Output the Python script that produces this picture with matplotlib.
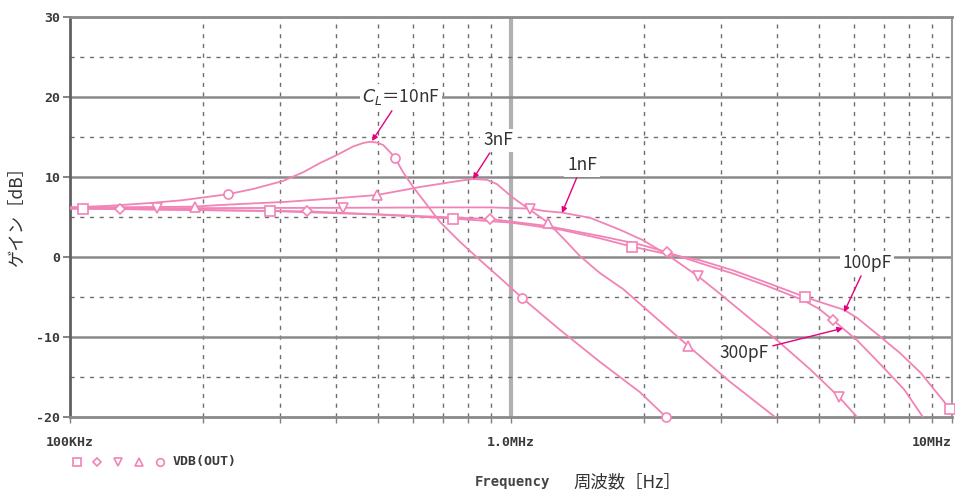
import matplotlib
matplotlib.use("Agg")
import matplotlib.pyplot as plt
from matplotlib.lines import Line2D
from matplotlib.ticker import FixedLocator, NullFormatter
import numpy as np

# ---------------- data (frequency in MHz, gain in dB) ----------------
f_100p = [0.1, 0.107, 0.284, 0.5, 0.739, 1.0, 1.3, 1.6, 1.881, 2.2, 2.68, 3.2, 3.8, 4.642,
          5.0, 5.69, 6.09, 6.8, 7.62, 8.5, 9.06, 9.9, 10.0]
g_100p = [6.05, 6.05, 5.75, 5.3, 4.8, 4.3, 3.4, 2.3, 1.3, 0.5, -0.4, -1.7, -3.2, -5.0,
          -5.6, -6.6, -7.6, -9.75, -12.0, -14.5, -16.4, -19.0, -19.4]
m_100p = [1, 2, 4, 8, 13, 21]

f_300p = [0.1, 0.13, 0.345, 0.6, 0.896, 1.2, 1.6, 1.95, 2.258, 2.68, 3.2, 3.8, 4.6, 5.0,
          5.373, 6.09, 6.975, 7.8, 8.59, 9.0]
g_300p = [6.05, 6.0, 5.7, 5.15, 4.75, 3.9, 2.6, 1.6, 0.6, -0.75, -2.1, -3.6, -5.4, -6.5,
          -7.9, -10.4, -13.75, -16.6, -20.0, -21.5]
m_300p = [1, 2, 4, 8, 14]

f_1n = [0.1, 0.1575, 0.416, 0.7, 0.9, 1.104, 1.19, 1.305, 1.511, 1.767, 1.992, 2.258, 2.655,
        2.979, 3.483, 4.01, 4.76, 5.544, 6.09, 6.866]
g_1n = [6.1, 6.1, 6.15, 6.2, 6.2, 6.05, 5.75, 5.55, 4.9, 3.4, 2.1, 0.3, -2.4,
        -4.6, -7.7, -10.4, -14.0, -17.5, -20.0, -22.5]
m_1n = [1, 2, 5, 12, 17]

f_3n = [0.1, 0.1575, 0.192, 0.219, 0.31, 0.403, 0.497, 0.622, 0.739, 0.8155, 0.882, 0.93,
        1.005, 1.104, 1.213, 1.326, 1.434, 1.59, 1.795, 2.066, 2.52, 3.138, 3.968, 4.5]
g_3n = [6.2, 6.25, 6.3, 6.5, 6.9, 7.35, 7.75, 8.75, 9.4, 9.75, 9.65, 9.1,
        7.5, 5.9, 4.3, 2.1, 0.1, -2.0, -4.0, -6.95, -11.1, -15.6, -20.0, -22.6]
m_3n = [2, 6, 14, 20]

f_10n = [0.1, 0.123, 0.152, 0.18, 0.228, 0.26, 0.304, 0.338, 0.369, 0.403, 0.438, 0.462,
         0.479, 0.497, 0.513, 0.532, 0.546, 0.569, 0.6, 0.645, 0.69, 0.766, 0.851, 0.944,
         1.059, 1.291, 1.59, 1.961, 2.246, 2.4]
g_10n = [6.2, 6.4, 6.75, 7.1, 7.85, 8.5, 9.5, 10.6, 11.75, 12.75, 13.8, 14.25,
         14.4, 14.3, 14.0, 13.1, 12.4, 10.6, 8.75, 6.5, 4.4, 1.9, -0.4, -2.6,
         -5.1, -9.1, -13.1, -16.9, -20.0, -21.3]
m_10n = [4, 16, 24, 28]

series = [
    ("100pF", f_100p, g_100p, m_100p, "s", 6.5),
    ("300pF", f_300p, g_300p, m_300p, "D", 5.0),
    ("1nF", f_1n, g_1n, m_1n, "v", 6.5),
    ("3nF", f_3n, g_3n, m_3n, "^", 6.5),
    ("10nF", f_10n, g_10n, m_10n, "o", 6.5),
]

y_major = [-20, -10, 0, 10, 20, 30]
y_labels = ["-20", "-10", "0", "10", "20", "30"]
y_minor = [-15, -5, 5, 15, 25]
x_major = [1e5, 1e6, 1e7]
x_labels = ["100KHz", "1.0MHz", "10MHz"]

LINE = "#f283b6"
ARROW = "#e5007f"

plt.rcParams["font.family"] = ["Noto Sans CJK JP", "DejaVu Sans"]

fig = plt.figure(figsize=(9.55, 4.92), dpi=100)
ax = fig.add_axes([70 / 955, 1 - 417 / 492, (952 - 70) / 955, 400 / 492])

ax.set_xscale("log")
ax.set_xlim(1e5, 1e7)
ax.set_ylim(-20, 30)

# grid
minor_x = [m * 10 ** e for e in (5, 6) for m in range(2, 10)]
for xv in minor_x:
    ax.axvline(xv, color="#6e6e6e", lw=1.0, ls=(0, (3, 4)), zorder=1)
ax.axvline(1e6, color="#b0b0b0", lw=3.0, zorder=1)
for yv in y_minor:
    ax.axhline(yv, color="#6e6e6e", lw=1.0, ls=(0, (3, 4)), zorder=1)
for yv in y_major[1:-1]:
    ax.axhline(yv, color="#8a8a8a", lw=1.8, zorder=1)

# curves
for name, f, g, mk, marker, ms in series:
    fx = np.array(f) * 1e6
    gy = np.array(g)
    ax.plot(fx, gy, color=LINE, lw=1.3, zorder=3, clip_on=True)
    ax.plot(fx[mk], gy[mk], ls="none", marker=marker, ms=ms,
            mfc="white", mec=LINE, mew=1.2, zorder=4, clip_on=False)

# axes styling
for side, c, w in (("left", "#606060", 2.0), ("bottom", "#8a8a8a", 2.0),
                   ("top", "#8a8a8a", 2.0), ("right", "#9a9a9a", 1.5)):
    ax.spines[side].set_color(c)
    ax.spines[side].set_linewidth(w)

ax.set_yticks(y_major)
ax.set_yticklabels(y_labels, fontfamily="DejaVu Sans Mono", fontweight="bold",
                   fontsize=9.5, color="#3a3a3a")
ax.tick_params(axis="y", direction="out", length=5, width=1.2, color="#707070", pad=2)
ax.set_xticks(x_major)
ax.xaxis.set_minor_locator(FixedLocator(minor_x))
ax.xaxis.set_minor_formatter(NullFormatter())
ax.set_xticklabels(x_labels, fontfamily="DejaVu Sans Mono", fontweight="bold",
                   fontsize=9.5, color="#3a3a3a")
ax.tick_params(axis="x", which="both", direction="out", length=4, width=1.0,
               color="#808080", pad=10)
xl = ax.get_xticklabels()
xl[-1].set_horizontalalignment("right")
xl[0].set_horizontalalignment("center")

# annotations
bbox = dict(boxstyle="square,pad=0.15", fc="white", ec="none")
arw = dict(arrowstyle="-|>", color=ARROW, lw=1.0, mutation_scale=8, shrinkA=1, shrinkB=0)
ann = [
    (r"$C_L$＝10nF", (4.84e5, 14.5), (5.63e5, 20.0)),
    ("3nF", (8.2e5, 9.75), (9.34e5, 14.6)),
    ("1nF", (1.305e6, 5.5), (1.449e6, 11.5)),
    ("100pF", (5.69e6, -6.9), (6.42e6, -0.75)),
    ("300pF", (5.66e6, -8.9), (3.38e6, -12.0)),
]
for txt, xy, xyt in ann:
    ax.annotate(txt, xy=xy, xytext=xyt, ha="center", va="center",
                fontsize=12.5, color="#333333", bbox=bbox, arrowprops=arw, zorder=6)

# labels
fig.text(17 / 955, 1 - 213 / 492, "ゲイン［dB］", rotation=90, ha="center", va="center",
         fontsize=12.5, color="#333333")
fig.text(512 / 955, 1 - 482 / 492, "Frequency", ha="center", va="center",
         fontfamily="DejaVu Sans Mono", fontweight="bold", fontsize=10, color="#444444")
fig.text(627 / 955, 1 - 482 / 492, "周波数［Hz］", ha="center", va="center",
         fontsize=12.5, color="#333333")

# legend row
leg_x = [77, 97, 118, 139, 160]
for (name, f, g, mk, marker, ms), lx in zip(series, leg_x):
    fig.add_artist(Line2D([lx / 955], [1 - 462 / 492], transform=fig.transFigure,
                          marker=marker, ms=ms - 1, mfc="white", mec=LINE, mew=1.2, ls="none"))
fig.text(173 / 955, 1 - 462 / 492, "VDB(OUT)", ha="left", va="center",
         fontfamily="DejaVu Sans Mono", fontweight="bold", fontsize=9.5, color="#3a3a3a")

fig.savefig("out.png", dpi=100)
